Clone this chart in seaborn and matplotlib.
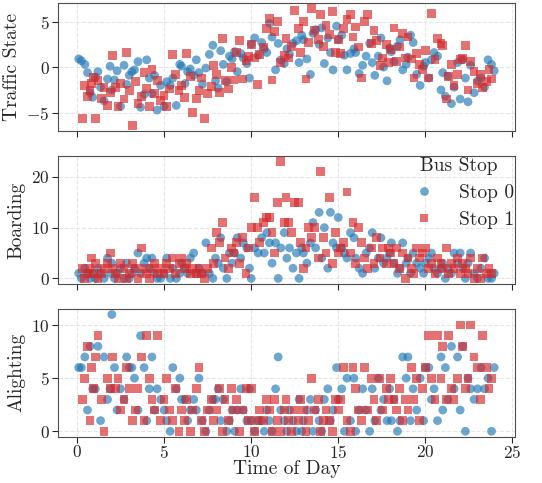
import numpy as np
import pandas as pd
import matplotlib
matplotlib.use("Agg")
import matplotlib.pyplot as plt
import seaborn as sns

# ---- data (per stop: time of day, traffic, boarding, alighting) ----
time_s0 = [0.1, 0.25, 0.45, 0.6, 0.75, 0.9,
           1.05, 1.2, 1.35, 1.55, 1.75, 1.9,
           2.0, 2.15, 2.3, 2.5, 2.7, 2.85,
           3.0, 3.15, 3.3, 3.5, 3.65, 3.85,
           4.0, 4.15, 4.3, 4.45, 4.6, 4.8,
           5.0, 5.15, 5.35, 5.5, 5.7, 5.9,
           6.0, 6.2, 6.35, 6.5, 6.7, 6.85,
           7.0, 7.2, 7.4, 7.6, 7.8, 7.95,
           8.1, 8.25, 8.4, 8.6, 8.75, 8.9,
           9.05, 9.2, 9.4, 9.55, 9.75, 9.9,
           10.0, 10.2, 10.4, 10.6, 10.75, 10.9,
           11.05, 11.2, 11.4, 11.55, 11.7, 11.9,
           12.05, 12.2, 12.4, 12.6, 12.75, 12.9,
           13.0, 13.2, 13.4, 13.55, 13.7, 13.9,
           14.05, 14.2, 14.4, 14.55, 14.7, 14.9,
           15.0, 15.2, 15.35, 15.5, 15.7, 15.9,
           16.0, 16.2, 16.4, 16.6, 16.8, 16.95,
           17.1, 17.3, 17.45, 17.6, 17.8, 17.95,
           18.05, 18.2, 18.4, 18.55, 18.7, 18.9,
           19.0, 19.15, 19.3, 19.5, 19.7, 19.9,
           20.0, 20.2, 20.35, 20.5, 20.7, 20.9,
           21.0, 21.15, 21.3, 21.5, 21.65, 21.85,
           22.0, 22.15, 22.3, 22.45, 22.6, 22.8,
           23.0, 23.2, 23.4, 23.6, 23.8, 23.95]
traffic_s0 = [0.9, 0.7, 0.3, -0.6, -2.8, -3.3,
              -1.1, -0.5, -2.2, -3.7, -1.3, 0.1,
              -2.5, -1.4, -0.4, -4.3, 0.2, -1.9,
              -0.9, -0.5, -0.3, 0.6, -4.4, -3.0,
              0.8, -1.2, -2.9, -0.9, -4.7, -2.0,
              -4.3, -1.6, -2.0, -1.2, -4.2, 0.3,
              0.1, -1.8, -0.5, -0.2, -0.9, 0.8,
              -0.6, -1.9, -0.1, 1.4, 2.4, -1.5,
              -2.3, 1.8, 0.3, -1.6, 1.2, 0.9,
              1.7, -0.5, 1.5, 1.0, 0.4, -1.2,
              2.5, 3.2, 1.3, 2.7, 2.0, 1.6,
              4.8, 3.3, -0.3, 2.6, 0.8, 0.4,
              2.0, 1.4, 2.6, 2.9, 0.5, 3.5,
              3.0, 0.9, -0.8, 3.7, 4.1, 2.5,
              4.3, 0.4, 3.2, 1.6, -0.3, 4.5,
              3.0, 3.5, 1.3, -0.3, 1.5, 2.0,
              1.6, -0.7, 0.2, 1.2, 2.6, 0.5,
              -0.9, 1.2, 3.2, 0.0, -1.5, 2.1,
              1.7, 0.6, 2.3, 3.0, -0.3, 0.3,
              1.1, 3.5, 2.7, -0.8, -2.0, 0.1,
              0.5, -1.2, 0.8, 1.6, 1.2, -2.5,
              -0.6, -3.2, -1.0, -4.0, -2.2, 0.5,
              -3.5, 0.8, -1.2, -3.8, 0.2, -2.8,
              -1.5, -1.2, -2.2, 0.8, 0.3, -0.4]
boarding_s0 = [1, 0, 2, 1, 0, 1,
               0, 2, 1, 0, 4, 1,
               3, 0, 1, 2, 0, 3,
               0, 1, 2, 5, 1, 3,
               4, 2, 4, 1, 0, 0,
               1, 4, 0, 2, 0, 1,
               3, 2, 1, 4, 5, 1,
               2, 1, 7, 1, 0, 4,
               3, 8, 2, 0, 5, 3,
               5, 8, 4, 7, 6, 2,
               0, 6, 5, 8, 5, 9,
               7, 3, 7, 0, 6, 9,
               4, 6, 2, 5, 0, 6,
               5, 3, 7, 11, 6, 13,
               4, 10, 2, 13, 7, 6,
               12, 6, 5, 4, 9, 8,
               4, 2, 1, 5, 6, 9,
               2, 4, 8, 3, 4, 5,
               7, 3, 1, 2, 7, 3,
               4, 1, 5, 3, 2, 1,
               3, 4, 5, 2, 1, 2,
               3, 0, 2, 1, 5, 3,
               5, 2, 0, 3, 5, 1,
               0, 2, 4, 0, 0, 1]
alighting_s0 = [6, 6, 7, 2, 8, 4,
                4, 8, 1, 7, 3, 4,
                11, 6, 2, 4, 3, 7,
                6, 6, 5, 2, 9, 6,
                1, 4, 7, 2, 4, 3,
                2, 1, 0, 6, 4, 5,
                3, 3, 1, 2, 3, 2,
                5, 1, 0, 2, 3, 3,
                4, 1, 3, 0, 1, 2,
                0, 2, 4, 2, 1, 4,
                1, 0, 1, 1, 0, 2,
                1, 0, 4, 7, 2, 1,
                0, 2, 1, 0, 3, 0,
                1, 2, 3, 0, 2, 1,
                0, 3, 4, 1, 2, 6,
                3, 4, 0, 5, 1, 5,
                0, 2, 4, 2, 0, 4,
                1, 5, 2, 3, 1, 4,
                1, 3, 0, 1, 7, 5,
                7, 1, 4, 2, 5, 1,
                6, 6, 3, 4, 1, 7,
                2, 6, 3, 8, 4, 7,
                2, 8, 0, 5, 4, 3,
                4, 6, 4, 5, 0, 6]

time_s1 = [0.3, 0.45, 0.6, 0.75, 0.85, 0.95,
           1.05, 1.2, 1.4, 1.55, 1.75, 1.9,
           2.05, 2.2, 2.35, 2.5, 2.7, 2.85,
           3.0, 3.2, 3.35, 3.5, 3.7, 3.85,
           4.0, 4.15, 4.3, 4.45, 4.6, 4.8,
           5.0, 5.15, 5.3, 5.5, 5.65, 5.85,
           6.0, 6.15, 6.3, 6.5, 6.65, 6.85,
           7.0, 7.15, 7.3, 7.5, 7.7, 7.85,
           8.0, 8.2, 8.35, 8.5, 8.7, 8.85,
           9.0, 9.15, 9.35, 9.5, 9.7, 9.85,
           10.0, 10.2, 10.35, 10.5, 10.7, 10.9,
           11.05, 11.2, 11.35, 11.5, 11.7, 11.9,
           12.0, 12.15, 12.3, 12.5, 12.7, 12.85,
           13.0, 13.15, 13.3, 13.45, 13.65, 13.85,
           14.0, 14.15, 14.3, 14.5, 14.65, 14.85,
           15.0, 15.15, 15.3, 15.5, 15.7, 15.85,
           16.0, 16.15, 16.35, 16.5, 16.7, 16.9,
           17.05, 17.2, 17.4, 17.55, 17.75, 17.9,
           18.0, 18.2, 18.35, 18.5, 18.7, 18.85,
           19.0, 19.2, 19.35, 19.5, 19.65, 19.85,
           20.0, 20.2, 20.35, 20.55, 20.7, 20.9,
           21.0, 21.2, 21.35, 21.5, 21.65, 21.85,
           22.0, 22.15, 22.3, 22.45, 22.6, 22.8,
           23.0, 23.15, 23.3, 23.5, 23.65, 23.8]
traffic_s1 = [-5.6, -2.0, -3.2, -2.6, -1.8, -1.1,
              -5.6, -1.5, -3.4, -2.2, -4.2, -2.8,
              1.3, -2.2, -4.3, -1.8, -3.5, 1.6,
              -2.6, -6.4, -1.6, -4.0, -3.2, -0.6,
              -2.3, -4.3, -0.3, -2.9, -1.5, -3.7,
              -3.1, -4.3, -2.4, 1.4, -0.8, -2.6,
              -2.0, -3.3, 1.5, -1.0, -5.0, -3.4,
              -2.6, -1.2, -5.6, -2.9, -2.1, 0.2,
              -0.8, -2.8, 3.1, -1.5, -2.4, 0.0,
              -1.4, 1.6, 2.9, -1.3, 0.7, 1.2,
              2.5, 1.0, -1.9, 1.4, 2.2, 4.2,
              5.3, -1.4, 3.9, 5.0, 0.5, 1.3,
              3.1, 1.0, 2.3, 6.2, 4.2, 1.6,
              5.0, -1.3, 2.7, 6.4, 4.0, 3.0,
              5.8, 2.3, 4.6, 3.6, 6.1, 1.6,
              3.0, 1.5, 4.2, 5.2, 5.8, 3.3,
              4.4, 2.2, -1.2, 5.0, 5.8, 2.6,
              4.0, 2.9, 0.2, 1.0, 2.5, 0.5,
              1.9, 4.3, 0.6, 2.2, 3.7, 1.0,
              3.3, 0.9, -1.2, 1.5, 0.3, -0.3,
              1.8, -1.2, 5.9, 0.8, 3.1, 2.6,
              2.4, -3.5, -1.0, 0.3, -2.0, -0.8,
              0.8, 1.0, 2.4, -2.5, 0.6, -0.5,
              -1.8, -0.8, -2.2, -1.6, -0.3, -1.3]
boarding_s1 = [2, 0, 1, 2, 4, 1,
               3, 0, 1, 2, 3, 5,
               2, 1, 0, 3, 2, 0,
               1, 3, 2, 0, 6, 2,
               1, 0, 2, 3, 1, 2,
               1, 3, 2, 4, 1, 3,
               4, 2, 3, 1, 2, 1,
               2, 1, 0, 2, 6, 3,
               9, 7, 11, 4, 2, 6,
               5, 7, 3, 8, 1, 6,
               10, 16, 10, 7, 11, 12,
               12, 9, 5, 15, 23, 11,
               16, 11, 9, 15, 15, 7,
               2, 6, 10, 8, 10, 4,
               21, 8, 5, 16, 3, 9,
               5, 6, 7, 17, 5, 11,
               3, 10, 7, 4, 2, 6,
               3, 8, 4, 6, 3, 6,
               5, 3, 6, 2, 5, 0,
               4, 2, 1, 6, 4, 5,
               6, 2, 3, 1, 4, 3,
               2, 6, 1, 3, 2, 4,
               1, 3, 2, 1, 4, 0,
               2, 0, 4, 1, 2, 1]
alighting_s1 = [3, 5, 8, 1, 6, 4,
                7, 9, 3, 0, 5, 4,
                7, 4, 5, 2, 3, 6,
                4, 1, 2, 4, 7, 1,
                9, 5, 3, 2, 9, 1,
                3, 5, 2, 1, 4, 0,
                2, 1, 3, 0, 2, 4,
                6, 1, 0, 2, 3, 1,
                2, 4, 0, 3, 1, 4,
                2, 3, 0, 2, 4, 1,
                4, 0, 1, 2, 1, 3,
                2, 0, 3, 1, 0, 2,
                3, 1, 0, 2, 1, 3,
                2, 0, 1, 5, 2, 3,
                0, 1, 2, 1, 0, 3,
                2, 3, 6, 1, 0, 6,
                4, 2, 1, 6, 2, 5,
                3, 1, 5, 2, 4, 3,
                5, 3, 2, 4, 1, 3,
                2, 6, 3, 5, 1, 4,
                6, 9, 5, 3, 9, 5,
                8, 3, 9, 4, 3, 5,
                10, 8, 4, 5, 10, 7,
                6, 3, 9, 6, 4, 5]

stops = ["Stop 0", "Stop 1"]

df = pd.concat([
    pd.DataFrame({"Time of Day": time_s0, "Traffic State": traffic_s0,
                  "Boarding": boarding_s0, "Alighting": alighting_s0, "Bus Stop": stops[0]}),
    pd.DataFrame({"Time of Day": time_s1, "Traffic State": traffic_s1,
                  "Boarding": boarding_s1, "Alighting": alighting_s1, "Bus Stop": stops[1]}),
], ignore_index=True)

sns.set_style("ticks", {"axes.grid": True, "grid.linestyle": "--", "grid.color": "0.9",
                        "axes.edgecolor": "0.3"})
plt.rcParams["font.family"] = ["cmr10", "DejaVu Serif"]
plt.rcParams["mathtext.fontset"] = "cm"
plt.rcParams["axes.formatter.use_mathtext"] = True

palette = {"Stop 0": "#1f77b4", "Stop 1": "#d62728"}
markers = {"Stop 0": "o", "Stop 1": "s"}

fig, axes = plt.subplots(3, 1, figsize=(5.42, 4.83), dpi=100, sharex=True)
fig.subplots_adjust(left=0.107, right=0.950, top=0.994, bottom=0.095, hspace=0.19)

cols = ["Traffic State", "Boarding", "Alighting"]
yticks = [[-5, 0, 5], [0, 10, 20], [0, 5, 10]]
for i, (ax, col) in enumerate(zip(axes, cols)):
    sns.scatterplot(data=df, x="Time of Day", y=col, hue="Bus Stop", style="Bus Stop",
                    palette=palette, markers=markers, s=40, alpha=0.65, linewidth=0,
                    ax=ax, legend=(i == 1))
    ax.set_yticks(yticks[i])
    ax.set_ylabel(col, fontsize=14, labelpad=4)
    ax.tick_params(labelsize=12.5, length=4, pad=2)
    ax.tick_params(axis="x", pad=1)
    for sp in ax.spines.values():
        sp.set_color("0.3")

axes[2].set_xticks([0, 5, 10, 15, 20, 25])
axes[2].set_xlabel("Time of Day", fontsize=14, labelpad=-1)
axes[0].set_xlabel("")
axes[1].set_xlabel("")

leg = axes[1].legend(title="Bus Stop", loc="upper right", bbox_to_anchor=(1.015, 1.05),
                     frameon=False, fontsize=14, title_fontsize=14, borderaxespad=0.0,
                     labelspacing=0.45)

plt.savefig("out.png", dpi=100)
